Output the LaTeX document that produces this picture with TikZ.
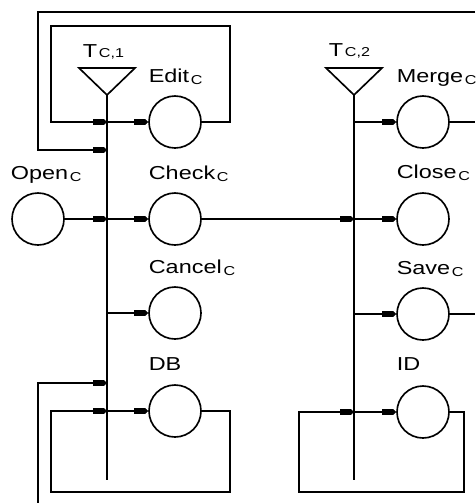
\documentclass[tikz,border=0pt]{standalone}
\usepackage{fontspec}
\setmainfont[FakeStretch=1.25]{Liberation Sans}
\usetikzlibrary{arrows.meta, calc}

\newcommand{\subc}[1]{{\kern1.5pt\fontsize{11}{11}\selectfont\raisebox{-2.5pt}{#1}}}

\begin{document}
\begin{tikzpicture}[x=0.03cm, y=-0.03cm,
    every path/.style={line width=1.4pt},
    place/.style={circle, draw, line width=1.4pt, minimum size=1.56cm, inner sep=0pt},
    lbl/.style={anchor=base west, inner sep=0pt, font=\fontsize{16}{16}\selectfont},
    trig/.style={line width=1.4pt, line join=miter},
    flow/.style={-{Square[length=3.3mm,width=1.7mm]Triangle[length=0.9mm,width=1.7mm]}}
]
\useasboundingbox (0,0) rectangle (475,503);

% places
\node[place] (open) at (38,219) {};
\node[place] (edit) at (175,122) {};
\node[place] (check) at (175,219) {};
\node[place] (cancel) at (175,313) {};
\node[place] (db) at (175,411) {};
\node[place] (merge) at (423,122) {};
\node[place] (close) at (423,219) {};
\node[place] (save) at (423,314) {};
\node[place] (idp) at (423,412) {};

% labels
\node[lbl] (openlbl) at (10,179) {Open\subc{C}};
\node[lbl] (editlbl) at (148,82) {Edit\subc{C}};
\node[lbl] (checklbl) at (148,179) {Check\subc{C}};
\node[lbl] (cancellbl) at (148,273) {Cancel\subc{C}};
\node[lbl] (dblbl) at (148,370) {DB};
\node[lbl] (mergelbl) at (396,82) {Merge\subc{C}};
\node[lbl] (closelbl) at (396,178) {Close\subc{C}};
\node[lbl] (savelbl) at (396,274) {Save\subc{C}};
\node[lbl] (idlbl) at (396,370) {ID};
\node[lbl] (t1lbl) at (82,57) {T{\kern1.5pt\fontsize{11}{11}\selectfont C,1}};
\node[lbl] (t2lbl) at (328,56) {T{\kern1.5pt\fontsize{11}{11}\selectfont C,2}};

% transitions
\coordinate (t1) at (107,95);
\coordinate (t2) at (354,95);
\draw[trig] (79,68) -- (135,68) -- (t1) -- cycle;
\draw[trig] (326,68) -- (382,68) -- (t2) -- cycle;

\coordinate (b1edit) at (107,122);
\coordinate (b1top) at (107,150);
\coordinate (b1check) at (107,219);
\coordinate (b1cancel) at (107,313);
\coordinate (b1back) at (107,383);
\coordinate (b1db) at (107,411);
\coordinate (b1end) at (107,480);
\coordinate (b2merge) at (354,122);
\coordinate (b2close) at (354,219);
\coordinate (b2save) at (354,314);
\coordinate (b2id) at (354,412);
\coordinate (b2end) at (354,480);

\draw (t1) -- (b1end);
\draw (t2) -- (b2end);

% left bus
\draw[flow] (edit.east) -| (230,26) -| (51,122) -- (b1edit);
\draw[flow] (b1edit) -- (edit);
\draw[flow] (475,12) -| (38,150) -- (b1top);
\draw[flow] (open) -- (b1check);
\draw[flow] (b1check) -- (check);
\draw[flow] (b1cancel) -- (cancel);
\draw[flow] (38,503) |- (b1back);
\draw[flow] (db.east) -| (230,492) -| (51,411) -- (b1db);
\draw[flow] (b1db) -- (db);

% right bus
\draw[flow] (b2merge) -- (merge);
\draw (merge.east) -- (475,122);
\draw[flow] (check) -- (b2close);
\draw[flow] (b2close) -- (close);
\draw[flow] (b2save) -- (save);
\draw (save.east) -- (475,314);
\draw[flow] (idp.east) -| (464,492) -| (299,412) -- (b2id);
\draw[flow] (b2id) -- (idp);
\end{tikzpicture}
\end{document}
